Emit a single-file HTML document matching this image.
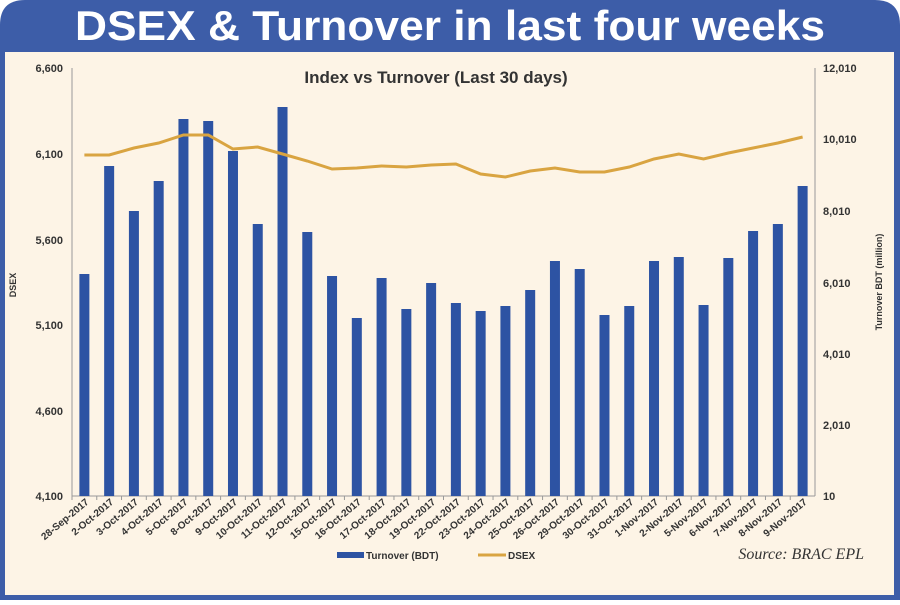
<!DOCTYPE html>
<html><head><meta charset="utf-8"><style>
body{margin:0;width:900px;height:600px;overflow:hidden;background:#fff;font-family:"Liberation Sans",sans-serif}
</style></head><body>
<svg width="900" height="600" xmlns="http://www.w3.org/2000/svg" font-family="Liberation Sans, sans-serif">
<path d="M0,600 V25 Q0,0 25,0 H875 Q900,0 900,25 V600 Z" fill="#3d5da8"/>
<rect x="5" y="52" width="889" height="543" fill="#fdf4e6"/>
<text x="450" y="40" text-anchor="middle" font-size="42" font-weight="bold" fill="#fff" textLength="750" lengthAdjust="spacingAndGlyphs">DSEX &amp; Turnover in last four weeks</text>
<text x="436" y="83" text-anchor="middle" font-size="17" font-weight="bold" fill="#333">Index vs Turnover (Last 30 days)</text>
<g stroke="#999" stroke-width="1">
<line x1="72" y1="68" x2="72" y2="496"/><line x1="815" y1="68" x2="815" y2="496"/><line x1="72" y1="496" x2="815" y2="496"/>
</g>
<g font-size="11" font-weight="bold" fill="#333" text-anchor="end">
<text x="63" y="72">6,600</text><text x="63" y="158">6,100</text><text x="63" y="244">5,600</text><text x="63" y="329">5,100</text><text x="63" y="415">4,600</text><text x="63" y="500">4,100</text>
</g>
<g font-size="11" font-weight="bold" fill="#333" text-anchor="start">
<text x="823" y="72">12,010</text><text x="823" y="143">10,010</text><text x="823" y="215">8,010</text><text x="823" y="287">6,010</text><text x="823" y="358">4,010</text><text x="823" y="429">2,010</text><text x="823" y="500">10</text>
</g>
<text transform="translate(16,285) rotate(-90)" text-anchor="middle" font-size="9" font-weight="bold" fill="#333">DSEX</text>
<text transform="translate(882,282) rotate(-90)" text-anchor="middle" font-size="9" font-weight="bold" fill="#333">Turnover BDT (million)</text>
<g id="bars" fill="#2d53a3"></g>
<polyline id="line" fill="none" stroke="#d9a441" stroke-width="3"/>
<g id="lbl" font-size="10" font-weight="bold" fill="#333"></g>
<rect x="337" y="552" width="27" height="6" fill="#2d53a3"/>
<text x="366" y="559" font-size="10" font-weight="bold" fill="#333">Turnover (BDT)</text>
<line x1="478" y1="555" x2="506" y2="555" stroke="#d9a441" stroke-width="3"/>
<text x="508" y="559" font-size="10" font-weight="bold" fill="#333">DSEX</text>
<text x="864" y="559" text-anchor="end" font-size="16" font-style="italic" font-family="Liberation Serif, serif" fill="#333">Source: BRAC EPL</text>
</svg>
<script>
var tops=[274,166,211,181,119,121,151,224,107,232,276,318,278,309,283,303,311,306,290,261,269,315,306,261,257,305,258,231,224,186];
var ly=[155,155,148,143,135,135,149,147,154,161,169,168,166,167,165,164,174,177,171,168,172,172,167,159,154,159,153,148,143,137];
var labs=["28-Sep-2017","2-Oct-2017","3-Oct-2017","4-Oct-2017","5-Oct-2017","8-Oct-2017","9-Oct-2017","10-Oct-2017","11-Oct-2017","12-Oct-2017","15-Oct-2017","16-Oct-2017","17-Oct-2017","18-Oct-2017","19-Oct-2017","22-Oct-2017","23-Oct-2017","24-Oct-2017","25-Oct-2017","26-Oct-2017","29-Oct-2017","30-Oct-2017","31-Oct-2017","1-Nov-2017","2-Nov-2017","5-Nov-2017","6-Nov-2017","7-Nov-2017","8-Nov-2017","9-Nov-2017"];
var ns="http://www.w3.org/2000/svg",b=document.getElementById("bars"),l=document.getElementById("lbl"),pts=[];
var w=743/30;
for(var i=0;i<30;i++){var cx=72+w*(i+0.5);
var r=document.createElementNS(ns,"rect");r.setAttribute("x",cx-5);r.setAttribute("y",tops[i]);r.setAttribute("width",10);r.setAttribute("height",496-tops[i]);b.appendChild(r);
pts.push(cx+","+ly[i]);
var t=document.createElementNS(ns,"text");t.setAttribute("text-anchor","end");t.setAttribute("transform","translate("+(cx+5)+",503) rotate(-40)");t.textContent=labs[i];l.appendChild(t);
var tk=document.createElementNS(ns,"line");tk.setAttribute("x1",72+w*i);tk.setAttribute("x2",72+w*i);tk.setAttribute("y1",496);tk.setAttribute("y2",500);tk.setAttribute("stroke","#999");l.appendChild(tk);}
document.getElementById("line").setAttribute("points",pts.join(" "));
</script>
</body></html>
